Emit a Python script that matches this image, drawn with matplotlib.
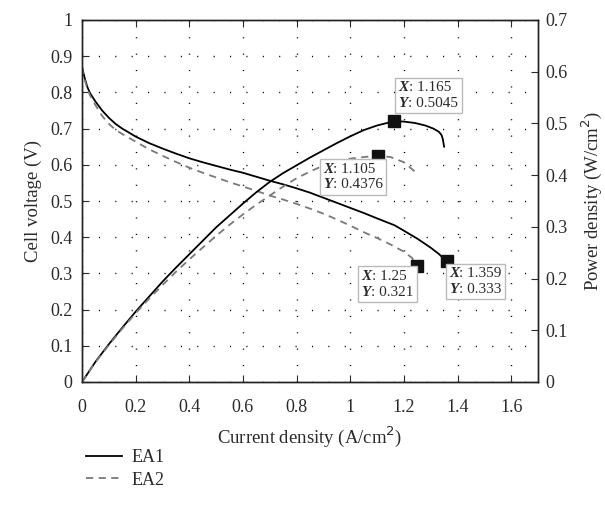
import numpy as np
import matplotlib
matplotlib.use('Agg')
import matplotlib.pyplot as plt
from matplotlib.offsetbox import TextArea, HPacker, VPacker, AnnotationBbox
from matplotlib.font_manager import FontProperties

plt.rcParams['font.family'] = ['Liberation Serif', 'DejaVu Serif']

# EA1 polarisation / power curve
i_ea1 = [0, 0.005, 0.01, 0.02, 0.03, 0.05, 0.075, 0.1, 0.125, 0.15, 0.2, 0.25,
         0.3, 0.35, 0.4, 0.45, 0.5, 0.55, 0.6, 0.65, 0.7, 0.75, 0.8, 0.85,
         0.9, 0.95, 1.0, 1.05, 1.1, 1.165, 1.2, 1.25, 1.3, 1.33, 1.359]
v_ea1 = [0.87, 0.855, 0.84, 0.815, 0.798, 0.775, 0.75, 0.73, 0.713, 0.70,
         0.678, 0.66, 0.645, 0.631, 0.618, 0.607, 0.597, 0.587, 0.578, 0.567,
         0.556, 0.546, 0.535, 0.523, 0.509, 0.495, 0.481, 0.467, 0.452, 0.433,
         0.418, 0.396, 0.371, 0.354, 0.333]
ip_ea1 = [0, 0.05, 0.1, 0.15, 0.2, 0.25, 0.3, 0.35, 0.4, 0.45, 0.5, 0.55,
          0.6, 0.65, 0.7, 0.75, 0.8, 0.85, 0.9, 0.95, 1.0, 1.05, 1.1, 1.165,
          1.2, 1.24, 1.28, 1.31, 1.33, 1.34, 1.345, 1.35]
p_ea1 = [0, 0.039, 0.073, 0.105, 0.136, 0.165, 0.194, 0.221, 0.247, 0.273,
         0.299, 0.322, 0.345, 0.367, 0.387, 0.404, 0.419, 0.434, 0.448, 0.462,
         0.475, 0.487, 0.496, 0.5045, 0.5035, 0.501, 0.496, 0.49, 0.484,
         0.478, 0.47, 0.455]

# EA2
i_ea2 = [0, 0.005, 0.01, 0.02, 0.03, 0.05, 0.075, 0.1, 0.125, 0.15, 0.2, 0.25,
         0.3, 0.35, 0.4, 0.45, 0.5, 0.55, 0.6, 0.65, 0.7, 0.75, 0.8, 0.85,
         0.9, 0.95, 1.0, 1.05, 1.105, 1.15, 1.2, 1.23, 1.25]
v_ea2 = [0.87, 0.85, 0.835, 0.81, 0.792, 0.765, 0.735, 0.713, 0.697, 0.685,
         0.664, 0.643, 0.625, 0.608, 0.592, 0.578, 0.565, 0.552, 0.540, 0.528,
         0.515, 0.504, 0.492, 0.479, 0.465, 0.449, 0.432, 0.414, 0.396, 0.38,
         0.36, 0.343, 0.321]
ip_ea2 = [0, 0.05, 0.1, 0.15, 0.2, 0.25, 0.3, 0.35, 0.4, 0.45, 0.5, 0.55,
          0.6, 0.65, 0.7, 0.75, 0.8, 0.85, 0.9, 0.95, 1.0, 1.05, 1.105,
          1.15, 1.2, 1.245]
p_ea2 = [0, 0.038, 0.0713, 0.103, 0.133, 0.161, 0.1875, 0.213, 0.237, 0.26,
         0.2825, 0.304, 0.324, 0.343, 0.3605, 0.378, 0.394, 0.407, 0.4185,
         0.427, 0.432, 0.435, 0.4376, 0.435, 0.425, 0.405]

# data tips: (x, y, which axis, box alignment, offset in points)
tips = [
    (1.165, 0.5045, 'p', (0, 0), (3, 8)),
    (1.105, 0.4376, 'p', (1, 1), (3, -5)),
    (1.359, 0.333, 'v', (0, 1), (2, -4)),
    (1.25, 0.321, 'v', (1, 1), (-3, -3)),
]
tip_labels = [('1.165', '0.5045'), ('1.105', '0.4376'), ('1.359', '0.333'), ('1.25', '0.321')]

fig = plt.figure(figsize=(6.05, 5.13), dpi=100)
ax = fig.add_axes([82/605, 1-382/513, 456/605, 362/513])
ax2 = ax.twinx()

txtc = '#2a2a2a'
l1, = ax.plot(i_ea1, v_ea1, color='black', lw=1.3)
l2, = ax.plot(i_ea2, v_ea2, color='#7a7a7a', lw=1.3, dashes=(4, 3))
ax2.plot(ip_ea1, p_ea1, color='black', lw=1.3)
ax2.plot(ip_ea2, p_ea2, color='#7a7a7a', lw=1.3, dashes=(4, 3))

ax.set_xlim(0, 1.7)
ax.set_ylim(0, 1)
ax2.set_ylim(0, 0.7)
ax.set_xticks(np.arange(0, 1.61, 0.2))
ax.set_xticklabels(['0', '0.2', '0.4', '0.6', '0.8', '1', '1.2', '1.4', '1.6'])
ax.set_yticks(np.arange(0, 1.01, 0.1))
ax.set_yticklabels(['0', '0.1', '0.2', '0.3', '0.4', '0.5', '0.6', '0.7', '0.8', '0.9', '1'])
ax2.set_yticks(np.arange(0, 0.71, 0.1))
ax2.set_yticklabels(['0', '0.1', '0.2', '0.3', '0.4', '0.5', '0.6', '0.7'])

ax.grid(True, color='black', lw=1.0, linestyle=(0, (0.8, 11)))
ax.tick_params(direction='in', top=True, right=False, labelsize=13, colors=txtc, length=5)
ax.tick_params(axis='x', pad=12)
ax.tick_params(axis='y', pad=7)
ax2.tick_params(direction='in', labelsize=13, colors=txtc, length=5, pad=5)
for a in (ax, ax2):
    for s in a.spines.values():
        s.set_color('#222222')
        s.set_linewidth(1.0)

ax.set_xlabel('Current density (A/cm$^2$)', fontsize=13.5, color=txtc, labelpad=6)
ax.set_ylabel('Cell voltage (V)', fontsize=13.5, color=txtc, labelpad=6)
ax2.set_ylabel('Power density (W/cm$^2$)', fontsize=13.5, color=txtc, labelpad=9)

fb = FontProperties(family='Liberation Serif', weight='bold', style='italic', size=11)
fn = FontProperties(family='Liberation Serif', size=11)
for (x, y, which, align, off), (sx, sy) in zip(tips, tip_labels):
    a = ax2 if which == 'p' else ax
    a.plot([x], [y], 's', color='#111111', ms=8.5, zorder=5)
    row1 = HPacker(children=[TextArea('X', textprops=dict(fontproperties=fb, color=txtc)),
                             TextArea(': ' + sx, textprops=dict(fontproperties=fn, color=txtc))],
                   pad=0, sep=0)
    row2 = HPacker(children=[TextArea('Y', textprops=dict(fontproperties=fb, color=txtc)),
                             TextArea(': ' + sy, textprops=dict(fontproperties=fn, color=txtc))],
                   pad=0, sep=0)
    box = VPacker(children=[row1, row2], pad=0, sep=2, align='left')
    ab = AnnotationBbox(box, (x, y), xybox=off, xycoords='data', boxcoords='offset points',
                        box_alignment=align, pad=0.25,
                        bboxprops=dict(facecolor='white', edgecolor='#bbbbbb', lw=1.0))
    ab.set_zorder(6)
    a.add_artist(ab)

fig.legend([l1, l2], ['EA1', 'EA2'], loc='upper left', bbox_to_anchor=(70/605, 1-433/513),
           frameon=False, fontsize=13, handlelength=2.0, handletextpad=0.5,
           labelcolor=txtc, labelspacing=0.3)

fig.savefig('out.png', dpi=100)
